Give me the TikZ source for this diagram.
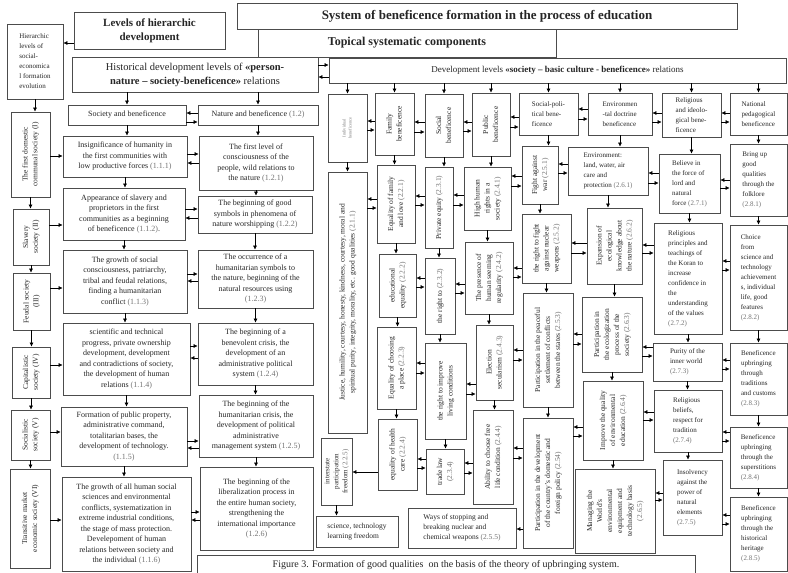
\documentclass[tikz,border=0pt]{standalone}
\usepackage{fontspec}
\setmainfont{Liberation Serif}
\usepackage{graphicx}
\usetikzlibrary{arrows.meta}
\newcommand{\idx}[1]{{\color{black!55}(#1)}}
\newcommand{\vt}[1]{\rotatebox{90}{\begin{tabular}{@{}c@{}}#1\end{tabular}}}

\begin{document}
\begin{tikzpicture}[x=1pt, y=-1pt,
    cell/.style={draw=black!70, line width=0.7pt, inner sep=1pt, align=center, text=black!85, font=\fontsize{8}{10.5}\selectfont},
    sz/.style 2 args={minimum width=#1pt, minimum height=#2pt},
    lft/.style={align=left, font=\fontsize{7}{10}\selectfont},
    vert/.style={font=\fontsize{7.5}{10}\selectfont},
    arr/.style={-{Latex[length=4pt, width=4pt]}, line width=0.6pt}]
    \path[fill=white, use as bounding box] (0,0) rectangle (788,573);
    % Headings
    \node (levels) at (149.5,30.5) [cell, sz={151}{37}, font=\bfseries\fontsize{11}{14}\selectfont] {Levels of hierarchic\\development};
    \node (title) at (487,16) [cell, sz={500}{26}, font=\bfseries\fontsize{13}{15}\selectfont] {System of beneficence formation in the process of education};
    \node (topic) at (407,43) [cell, sz={298}{28}, font=\bfseries\fontsize{12}{14}\selectfont] {Topical systematic components};
    \node (hier) at (35,61.5) [cell, lft, sz={56}{75}] {Hierarchic\\levels of\\social-\\economica\\l formation\\evolution};
    \node (hist) at (195,74.5) [cell, sz={246}{35}, font=\fontsize{10.5}{14}\selectfont] {Historical development levels of \textbf{«person-}\\\textbf{nature – society-beneficence»} relations};
    \node (dev) at (557.5,70.5) [cell, sz={457}{25}, font=\fontsize{9}{11}\selectfont] {Development levels \textbf{«society – basic culture - beneficence»} relations};
    % Societies
    \node (s1) at (30.5,154.5) [cell, vert, sz={39}{85}] {\vt{The first domestic\\communal society (I)}};
    \node (s2) at (31,237) [cell, vert, sz={36}{56}] {\vt{Slavery\\society (II)}};
    \node (s3) at (31.5,301.5) [cell, vert, sz={37}{57}] {\vt{Feudal society\\(III)}};
    \node (s4) at (31,372.5) [cell, vert, sz={38}{51}] {\vt{Capitalistic\\society (IV)}};
    \node (s5) at (30.5,435) [cell, vert, sz={39}{50}] {\vt{Socialistic\\society (V)}};
    \node (s6) at (30,518.5) [cell, vert, sz={40}{99}] {\vt{Transitive market\\economic society (VI)}};
    % Society and beneficence
    \node (n11) at (127,115) [cell, sz={118}{20}] {Society and beneficence};
    \node (n111) at (125,156.5) [cell, sz={124}{41}] {Insignificance of humanity in\\the first communities with\\low productive forces \idx{1.1.1}};
    \node (n112) at (124,214) [cell, sz={122}{52}] {Appearance of slavery and\\proprietors in the first\\communities as a beginning\\of beneficence \idx{1.1.2}.};
    \node (n113) at (125,281.5) [cell, sz={124}{63}] {The growth of social\\consciousness, patriarchy,\\tribal and feudal relations,\\finding a humanitarian\\conflict \idx{1.1.3}};
    \node (n114) at (126.5,359) [cell, sz={127}{72}] {scientific and technical\\progress, private ownership\\development, development\\and contradictions of society,\\the development of human\\relations \idx{1.1.4}};
    \node (n115) at (124,436.5) [cell, sz={126}{59}] {Formation of public property,\\administrative command,\\totalitarian bases, the\\development of technology.\\\idx{1.1.5}};
    \node (n116) at (126.5,524) [cell, sz={129}{94}] {The growth of all human social\\sciences and environmental\\conflicts, systematization in\\extreme industrial conditions,\\the stage of mass protection.\\Develepoment of human\\relations between society and\\the individual \idx{1.1.6}};
    % Nature and beneficence
    \node (n12) at (258,115) [cell, sz={120}{20}] {Nature and beneficence \idx{1.2}};
    \node (n121) at (256,163) [cell, sz={114}{54}] {The first level of\\consciousness of the\\people, wild relations to\\the nature \idx{1.2.1}};
    \node (n122) at (255,214.5) [cell, sz={114}{37}] {The beginning of good\\symbols in phenomena of\\nature worshipping \idx{1.2.2}};
    \node (n123) at (255.5,279) [cell, sz={115}{58}] {The occurrence of a\\humanitarian symbols to\\the nature, beginning of the\\natural resources using\\\idx{1.2.3}};
    \node (n124) at (255.5,354) [cell, sz={115}{62}] {The beginning of a\\benevolent crisis, the\\development of an\\administrative political\\system \idx{1.2.4}};
    \node (n125) at (256,426) [cell, sz={114}{62}] {The beginning of the\\humanitarian crisis, the\\development of political\\administrative\\management system \idx{1.2.5}};
    \node (n126) at (256.5,508.5) [cell, sz={113}{83}] {The beginning of the\\liberalization process in\\the entire human society,\\strengthening the\\international importance\\\idx{1.2.6}};
    % Basic culture, first row
    \node (ind) at (347.5,128) [cell, sz={39}{68}, font=\fontsize{4.5}{6}\selectfont, text=black!50] {\vt{Individual\\beneficence}};
    \node (fam) at (394.5,124) [cell, vert, sz={39}{62}] {\vt{Family\\beneficence}};
    \node (soc) at (444,125.5) [cell, vert, sz={38}{63}] {\vt{Social\\beneficence}};
    \node (pub) at (491,124.5) [cell, vert, sz={38}{63}] {\vt{Public\\beneficence}};
    \node (sp) at (548.5,114) [cell, lft, sz={59}{42}] {Social-poli-\\tical bene-\\ficence};
    \node (env) at (620,114) [cell, lft, sz={64}{42}] {Environmen\\-tal doctrine\\beneficence};
    \node (rel) at (691.5,115) [cell, lft, sz={59}{44}] {Religious\\and ideolo-\\gical bene-\\ficence};
    \node (nat) at (758.5,114) [cell, lft, sz={57}{42}] {National\\pedagogical\\beneficence};
    % Individual and family
    \node (n211) at (347.5,302.5) [cell, vert, sz={39}{261}] {\vt{Justice, humility, courtesy, honesty, kindness, courtesy, moral and\\spiritual purity, integrity, morality, etc. good qualities \idx{2.1.1}}};
    \node (n225) at (336.5,471.5) [cell, vert, sz={31}{67}, font=\fontsize{7}{9}\selectfont] {\vt{interstate\\participation\\freedom \idx{2.2.5}}};
    \node (nsci) at (357,531.5) [cell, lft, sz={82}{31}, font=\fontsize{7.5}{10}\selectfont] {science, technology\\learning freedom};
    \node (n221) at (396,204) [cell, vert, sz={38}{78}] {\vt{Equality of family\\and love \idx{2.2.1}}};
    \node (n222) at (397.5,285.5) [cell, vert, sz={37}{63}] {\vt{educational\\equality \idx{2.2.2}}};
    \node (n223) at (396.5,368) [cell, vert, sz={39}{82}] {\vt{Equality of choosing\\a place \idx{2.2.3}}};
    \node (n224) at (397.5,454.5) [cell, vert, sz={39}{71}] {\vt{equality of health\\care \idx{2.2.4}}};
    % Social
    \node (n231) at (439,207.5) [cell, vert, sz={28}{81}] {\vt{Private equity \idx{2.3.1}}};
    \node (n232) at (440,296) [cell, vert, sz={30}{76}] {\vt{the right to \idx{2.3.2}}};
    \node (n233) at (445.5,391) [cell, vert, sz={41}{96}] {\vt{the right to improve\\living conditions}};
    \node (n234) at (445,471.5) [cell, vert, sz={38}{45}] {\vt{trade law\\\idx{2.3.4}}};
    % Public
    \node (n241) at (487.5,198.5) [cell, vert, sz={47}{63}] {\vt{High human\\rights in a\\society \idx{2.4.1}}};
    \node (n242) at (489,278) [cell, vert, sz={48}{72}] {\vt{The presence of\\human seeming\\regularity \idx{2.4.2}}};
    \node (n243) at (494.5,362.5) [cell, vert, sz={37}{75}] {\vt{Election\\secularism \idx{2.4.3}}};
    \node (n244) at (493,457) [cell, vert, sz={40}{94}] {\vt{Ability to choose free\\life condition \idx{2.4.4}}};
    \node (n255) at (462,528) [cell, lft, sz={108}{40}, font=\fontsize{7.5}{10}\selectfont] {Ways of stopping and\\breaking nuclear and\\chemical weapons \idx{2.5.5}};
    % Social-political
    \node (n251) at (540,175) [cell, vert, sz={36}{58}] {\vt{Fight against\\war \idx{2.5.1}}};
    \node (n252) at (546.5,248.5) [cell, vert, sz={49}{69}] {\vt{the right to fight\\against nuclear\\weapons \idx{2.5.2}}};
    \node (n253) at (548,350) [cell, vert, sz={50}{114}] {\vt{Participation in the peaceful\\settlement of conflicts\\between the states \idx{2.5.3}}};
    \node (n254) at (548,483) [cell, vert, sz={50}{130}] {\vt{Participation in the development\\of the country's domestic and\\foreign policy \idx{2.54}}};
    % Environmental
    \node (n261) at (608,171) [cell, lft, sz={80}{48}] {Environment:\\land, water, air\\care and\\protection \idx{2.6.1}};
    \node (n262) at (614.5,246) [cell, vert, sz={55}{76}] {\vt{Expansion of\\ecological\\knowledge about\\the nature \idx{2.6.2}}};
    \node (n263) at (612,334.5) [cell, vert, sz={60}{75}] {\vt{Participation in\\the ecologization\\process of the\\society \idx{2.6.3}}};
    \node (n264) at (613,420.5) [cell, vert, sz={60}{79}] {\vt{Improve the quality\\of environmental\\education \idx{2.6.4}}};
    \node (n265) at (615,511) [cell, vert, sz={80}{84}] {\vt{Managing the\\World's\\environmental\\equipment and\\technology basis\\\idx{2.6.5}}};
    % Religious
    \node (n271) at (689.5,183.5) [cell, lft, sz={61}{59}] {Believe in\\the force of\\lord and\\natural\\force \idx{2.7.1}};
    \node (n272) at (688,278.5) [cell, lft, sz={68}{111}] {Religious\\principles and\\teachings of\\the Koran to\\increase\\confidence in\\the\\understanding\\of the values\\\idx{2.7.2}};
    \node (n273) at (687.5,362) [cell, lft, sz={69}{38}] {Purity of the\\inner world\\\idx{2.7.3}};
    \node (n274) at (688,421) [cell, lft, sz={68}{62}] {Religious\\beliefs,\\respect for\\tradition\\\idx{2.7.4}};
    \node (n275) at (692.5,497.5) [cell, lft, sz={59}{75}] {Insolvency\\against the\\power of\\natural\\elements\\\idx{2.7.5}};
    % National
    \node (n281) at (758.5,180) [cell, lft, sz={57}{72}] {Bring up\\good\\qualities\\through the\\folklore\\\idx{2.8.1}};
    \node (n282) at (758.5,277.5) [cell, lft, sz={57}{105}] {Choice\\from\\science and\\technology\\achievement\\s, individual\\life, good\\features\\\idx{2.8.2}};
    \node (n283) at (758.5,379) [cell, lft, sz={57}{72}] {Beneficence\\upbringing\\through\\traditions\\and customs\\\idx{2.8.3}};
    \node (n284) at (758.5,457.5) [cell, lft, sz={57}{61}] {Beneficence\\upbringing\\through the\\superstitions\\\idx{2.8.4}};
    \node (n285) at (758.5,534) [cell, lft, sz={57}{74}] {Beneficence\\upbringing\\through the\\historical\\heritage\\\idx{2.8.5}};
    % Caption
    \node (cap) at (446,565) [cell, sz={498}{20}, font=\fontsize{10}{12}\selectfont] {Figure 3. Formation of good qualities\ \ on the basis of the theory of upbringing system.};
    % Arrows from headings
    \draw [arr] (levels.west |- 0,43) -- (hier.east |- 0,43);
    \draw [arr] (hist.east |- 0,65) -- (dev.west |- 0,65);
    \draw [arr] (dev.west |- 0,77) -- (hist.east |- 0,77);
    \draw [arr] (hist.south -| n11.north) -- (n11.north);
    \draw [arr] (hist.south -| n12.north) -- (n12.north);
    \foreach \b in {ind, fam, soc, pub, sp, env, rel, nat}
        \draw [arr] (dev.south -| \b.north) -- (\b.north);
    % Downward arrows
    \foreach \a/\b in {hier/s1, s1/s2, s2/s3, s3/s4, s4/s5, s5/s6,
        n11/n111, n111/n112, n112/n113, n113/n114, n114/n115, n115/n116,
        n12/n121, n121/n122, n122/n123, n123/n124, n124/n125, n125/n126,
        ind/n211, n225/nsci, fam/n221, n221/n222, n222/n223, n223/n224,
        soc/n231, n231/n232, n232/n233, n233/n234,
        pub/n241, n241/n242, n242/n243, n243/n244,
        sp/n251, n251/n252, n252/n253, n253/n254,
        env/n261, n261/n262, n262/n263, n263/n264, n264/n265,
        rel/n271, n271/n272, n272/n273, n273/n274, n274/n275,
        nat/n281, n281/n282, n282/n283, n283/n284, n284/n285}
        \draw [arr] (\a.south) -- (\a.south |- \b.north);
    % Societies to first column
    \foreach \a/\b/\y in {s1/n111/156, s2/n112/225, s3/n113/288, s4/n114/365, s5/n115/432, s6/n116/520}
        \draw [arr] (\a.east |- 0,\y) -- (\b.west |- 0,\y);
    % Double arrows, upper one pointing right
    \foreach \a/\b/\y/\z in {n111/n121/154/163, n112/n122/209/218, n113/n123/274/281,
        n114/n124/346/358, n115/n125/441/448, n116/n126/512/520} {
        \draw [arr] (\a.east |- 0,\y) -- (\b.west |- 0,\y);
        \draw [arr] (\b.west |- 0,\z) -- (\a.east |- 0,\z);
    }
    % Double arrows, upper one pointing left
    \foreach \a/\b/\y/\z in {n11/n12/113/122,
        ind/fam/121/130, fam/soc/122/132, soc/pub/122/131, pub/sp/117/127, sp/env/109/119, env/rel/113/122, rel/nat/113/122,
        n211/n221/199/208, n221/n231/196/205, n222/n232/278/287, n223/n233/363/373, n224/n234/459/468,
        n231/n241/195/205, n232/n242/284/293, n233/n243/384/394, n234/n244/463/473,
        n241/n251/176/186, n242/n252/268/277, n243/n253/350/360, n244/n254/448/458,
        n251/n261/164/173, n252/n262/243/253, n253/n263/334/344, n254/n264/427/436,
        n261/n271/173/183, n262/n272/245/253, n263/n273/347/356, n264/n274/412/420, n265/n275/493/500,
        n271/n281/180/188, n272/n282/261/270, n273/n283/360/369, n274/n284/432/441, n275/n285/515/524} {
        \draw [arr] (\b.west |- 0,\y) -- (\a.east |- 0,\y);
        \draw [arr] (\a.east |- 0,\z) -- (\b.west |- 0,\z);
    }
    % Single arrows
    \draw [arr] (n224.west |- 0,472) -- (n225.east |- 0,472);
    \draw [arr] (n254.west |- 0,529) -- (n255.east |- 0,529);
\end{tikzpicture}
\end{document}
